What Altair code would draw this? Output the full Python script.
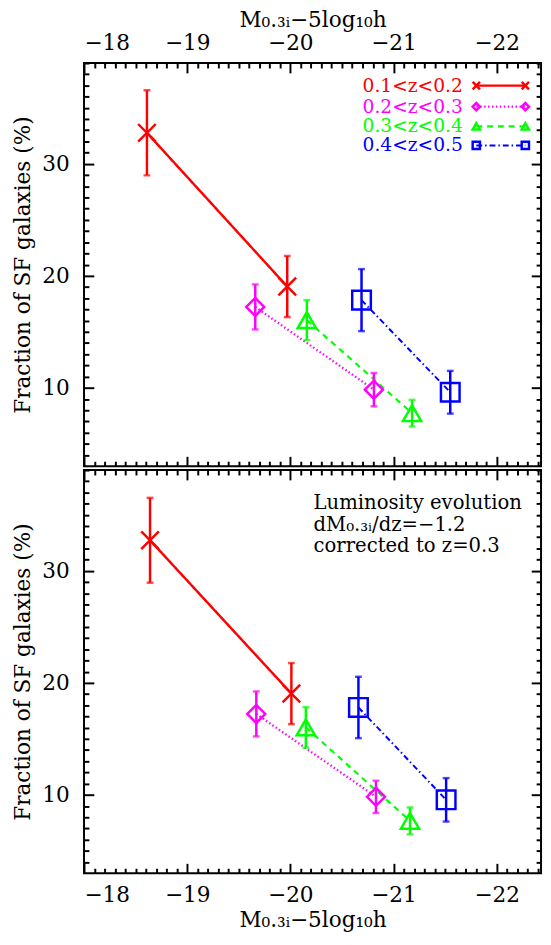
import altair as alt
import pandas as pd

FONT = "DejaVu Serif"

series = ["0.1<z<0.2", "0.2<z<0.3", "0.3<z<0.4", "0.4<z<0.5"]
colors = ["#ff0000", "#ff00ff", "#00ff00", "#0000ff"]

# ---- top panel (observed) ----
top_mag_z1 = [-18.61, -19.97]
top_frac_z1 = [32.77, 19.04]
top_err_z1 = [3.80, 2.73]
top_mag_z2 = [-19.66, -20.81]
top_frac_z2 = [17.22, 9.83]
top_err_z2 = [2.01, 1.49]
top_mag_z3 = [-20.16, -21.18]
top_frac_z3 = [16.04, 7.73]
top_err_z3 = [1.79, 1.19]
top_mag_z4 = [-20.69, -21.55]
top_frac_z4 = [17.83, 9.60]
top_err_z4 = [2.77, 1.91]

# ---- bottom panel (luminosity-evolution corrected) ----
bot_mag_z1 = [-18.64, -20.01]
bot_frac_z1 = [32.73, 19.04]
bot_err_z1 = [3.79, 2.73]
bot_mag_z2 = [-19.67, -20.83]
bot_frac_z2 = [17.22, 9.82]
bot_err_z2 = [2.01, 1.44]
bot_mag_z3 = [-20.15, -21.16]
bot_frac_z3 = [16.02, 7.67]
bot_err_z3 = [1.81, 1.20]
bot_mag_z4 = [-20.66, -21.51]
bot_frac_z4 = [17.80, 9.55]
bot_err_z4 = [2.74, 1.94]

x_major = [-18, -19, -20, -21, -22]
y_major = [10, 20, 30]
x_minor = [round(-18 - 0.1 * i, 1) for i in range(1, 45) if i % 10 != 0]
y_minor = [v for v in range(4, 40) if v % 10 != 0]

xtitle = "M₀.₃ᵢ−5log₁₀h"
ytitle = "Fraction of SF galaxies (%)"

W, H = 466, 411
XDOM = [-18, -22.43]
YDOM = [3, 39]
FS = 22

shapes = ["M-1,-1L1,1M-1,1L1,-1", "diamond", "triangle-up", "square"]
sizes = [324, 361, 441, 361]
dashes = [[1, 0], [1.5, 2.5], [6, 5], [6, 3, 1.5, 3]]
widths = [2.5, 2, 3, 3]

col_enc = alt.Color("series:N", scale=alt.Scale(domain=series, range=colors), legend=None)
dash_enc = alt.StrokeDash("series:N", scale=alt.Scale(domain=series, range=dashes), legend=None)
width_enc = alt.StrokeWidth("series:N", scale=alt.Scale(domain=series, range=widths), legend=None)
shape_enc = alt.Shape("series:N", scale=alt.Scale(domain=series, range=shapes), legend=None)
size_enc = alt.Size("series:N", scale=alt.Scale(domain=series, range=sizes), legend=None)


def tick_axis(orient, values, size, labels=False, title=None, pad=0, tpad=0):
    kw = dict(orient=orient, values=values, tickSize=size, offset=-size, tickWidth=2,
              tickColor="black", domain=False, grid=False, labels=labels)
    if labels:
        kw.update(labelFont=FONT, labelFontSize=FS, labelColor="black", labelPadding=pad,
                  title=title, titleFont=FONT, titleFontSize=FS, titleFontWeight="normal",
                  titleColor="black", titlePadding=tpad)
    else:
        kw.update(title=None)
    return alt.Axis(**kw)


def build_df(mags, fracs, errs):
    rows = []
    for s, xs, ys, es in zip(series, mags, fracs, errs):
        for x, y, e in zip(xs, ys, es):
            rows.append(dict(series=s, mag=x, frac=y, lo=y - e, hi=y + e))
    return pd.DataFrame(rows)


def panel(df, label_side, other_side, extra):
    xsc = alt.Scale(domain=XDOM, nice=False, zero=False)
    ysc = alt.Scale(domain=YDOM, nice=False, zero=False)
    base = alt.Chart(df)
    if label_side == "top":
        xpad, xtpad = 9, 0
    else:
        xpad, xtpad = 12, 4
    lines = base.mark_line().encode(
        x=alt.X("mag:Q", scale=xsc,
                axis=tick_axis(label_side, x_major, 10, True, xtitle, xpad, xtpad)),
        y=alt.Y("frac:Q", scale=ysc,
                axis=tick_axis("left", y_major, 10, True, ytitle, 15, 8)),
        color=col_enc, strokeDash=dash_enc, strokeWidth=width_enc,
    )
    rules = base.mark_rule(strokeWidth=2.5).encode(
        x=alt.X("mag:Q", scale=xsc, axis=tick_axis(label_side, x_minor, 5)),
        y=alt.Y("lo:Q", scale=ysc, axis=tick_axis("left", y_minor, 5)),
        y2="hi:Q", color=col_enc,
    )
    caps = base.transform_fold(["lo", "hi"], as_=["k", "v"]).mark_tick(
        orient="horizontal", size=7, thickness=2.5
    ).encode(
        x=alt.X("mag:Q", scale=xsc, axis=tick_axis(other_side, x_major, 10)),
        y=alt.Y("v:Q", scale=ysc, axis=tick_axis("right", y_major, 10)),
        color=col_enc,
    )
    pts = base.mark_point(filled=False, strokeWidth=2.5, opacity=1).encode(
        x=alt.X("mag:Q", scale=xsc, axis=tick_axis(other_side, x_minor, 5)),
        y=alt.Y("frac:Q", scale=ysc, axis=tick_axis("right", y_minor, 5)),
        color=col_enc, shape=shape_enc, size=size_enc,
    )
    return alt.layer(lines, rules, caps, pts, *extra).resolve_axis(
        x="independent", y="independent"
    ).properties(width=W, height=H)


# legend (layout in pixels inside the top panel)
leg_y = [23, 44.5, 64.5, 84]
leg_df = pd.DataFrame(dict(series=series, ty=leg_y))
leg_text = alt.Chart(leg_df).mark_text(
    align="left", baseline="middle", font=FONT, fontSize=19
).encode(
    x=alt.value(284), y=alt.Y("ty:Q", scale=None, axis=None), text="series:N", color=col_enc
)
leg_line = alt.Chart(leg_df).mark_rule().encode(
    x=alt.value(400), x2=alt.value(450), y=alt.Y("ty:Q", scale=None, axis=None),
    color=col_enc, strokeDash=dash_enc, strokeWidth=width_enc,
)
leg_pts_df = pd.DataFrame(dict(series=series * 2, ty=leg_y * 2, tx=[400] * 4 + [450] * 4))
leg_pts = alt.Chart(leg_pts_df).mark_point(filled=False, strokeWidth=2.5, size=55, opacity=1).encode(
    x=alt.X("tx:Q", scale=None, axis=None), y=alt.Y("ty:Q", scale=None, axis=None),
    color=col_enc, shape=shape_enc,
)

ann_lines = ["Luminosity evolution", "dM₀.₃ᵢ/dz=−1.2", "corrected to z=0.3"]
ann_df = pd.DataFrame(dict(t=ann_lines, ty=[34, 56, 78]))
ann = alt.Chart(ann_df).mark_text(
    align="left", baseline="middle", font=FONT, fontSize=20, color="black"
).encode(x=alt.value(234), y=alt.Y("ty:Q", scale=None, axis=None), text="t:N")

top_df = build_df([top_mag_z1, top_mag_z2, top_mag_z3, top_mag_z4],
                  [top_frac_z1, top_frac_z2, top_frac_z3, top_frac_z4],
                  [top_err_z1, top_err_z2, top_err_z3, top_err_z4])
bot_df = build_df([bot_mag_z1, bot_mag_z2, bot_mag_z3, bot_mag_z4],
                  [bot_frac_z1, bot_frac_z2, bot_frac_z3, bot_frac_z4],
                  [bot_err_z1, bot_err_z2, bot_err_z3, bot_err_z4])

top = panel(top_df, "top", "bottom", [leg_line, leg_pts, leg_text])
bot = panel(bot_df, "bottom", "top", [ann])

chart = alt.vconcat(top, bot, spacing=0).configure_view(
    stroke="black", strokeWidth=2
).properties(padding={"left": 2.5, "top": -9, "right": 0, "bottom": 0})

chart.save("out.html", embed_options={"renderer": "svg", "actions": False})
